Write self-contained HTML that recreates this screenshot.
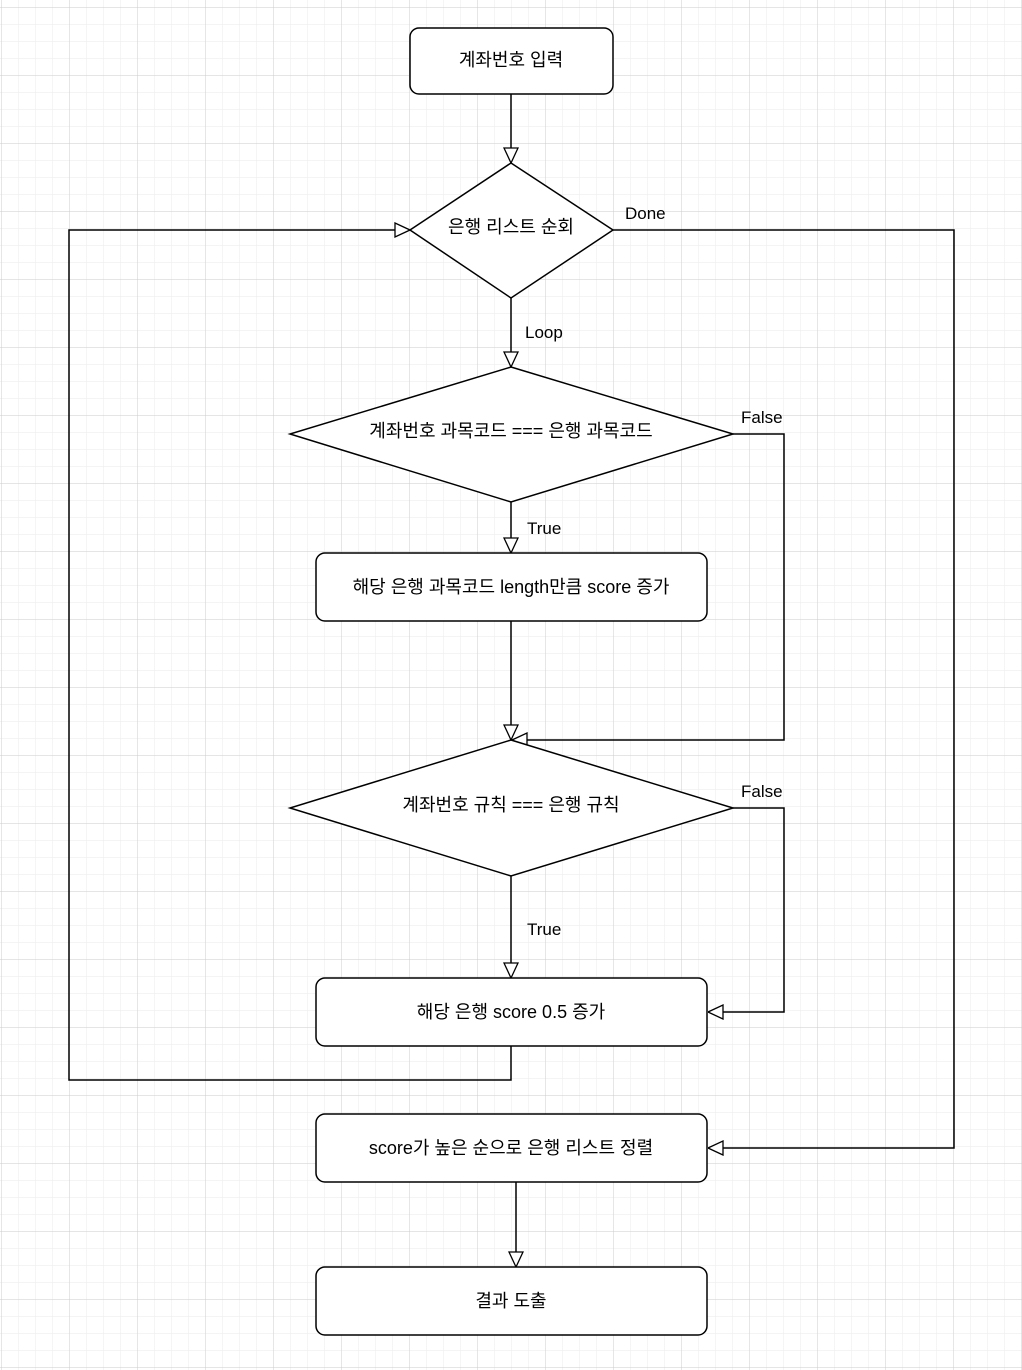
<!DOCTYPE html>
<html><head><meta charset="utf-8"><style>
html,body{margin:0;padding:0;background:#fff}
svg{display:block}
text{font-family:"Liberation Sans","Noto Sans CJK KR",sans-serif;font-size:18px;fill:#000}
</style></head><body>
<svg width="1022" height="1370" xmlns="http://www.w3.org/2000/svg">
<defs>
<pattern id="minor" width="17" height="17" patternUnits="userSpaceOnUse" x="1" y="7">
<path d="M0 0H17M0 0V17" stroke="#eeeeee" stroke-width="1.2" fill="none"/>
</pattern>
<pattern id="major" width="68" height="68" patternUnits="userSpaceOnUse" x="1" y="7">
<path d="M0 0H68M0 0V68" stroke="#cfcfcf" stroke-width="1" fill="none"/>
</pattern>
<marker id="ah" viewBox="0 0 16 16" refX="16" refY="8" markerWidth="16" markerHeight="16" markerUnits="userSpaceOnUse" orient="auto">
<path d="M1 1L16 8L1 15Z" fill="#fff" stroke="#000" stroke-width="1.3"/>
</marker>
</defs>
<rect width="1022" height="1370" fill="url(#minor)"/>
<rect width="1022" height="1370" fill="url(#major)"/>
<g fill="none" stroke="#000" stroke-width="1.5">
<path d="M511 94V163" marker-end="url(#ah)"/>
<path d="M511 298V367" marker-end="url(#ah)"/>
<path d="M511 502V553" marker-end="url(#ah)"/>
<path d="M511 621V740" marker-end="url(#ah)"/>
<path d="M733 434H784V740H512" marker-end="url(#ah)"/>
<path d="M511 876V978" marker-end="url(#ah)"/>
<path d="M733 808H784V1012H708" marker-end="url(#ah)"/>
<path d="M511 1046V1080H69V230H410" marker-end="url(#ah)"/>
<path d="M613 230H954V1148H708" marker-end="url(#ah)"/>
<path d="M516 1182V1267" marker-end="url(#ah)"/>
</g>
<g fill="#fff" stroke="#000" stroke-width="1.5">
<rect x="410" y="28" width="203" height="66" rx="9"/>
<path d="M511 163L613 230L511 298L410 230Z"/>
<path d="M511 367L733 434L511 502L290 434Z"/>
<rect x="316" y="553" width="391" height="68" rx="9"/>
<path d="M511 740L733 808L511 876L290 808Z"/>
<rect x="316" y="978" width="391" height="68" rx="9"/>
<rect x="316" y="1114" width="391" height="68" rx="9"/>
<rect x="316" y="1267" width="391" height="68" rx="9"/>
</g>
<g text-anchor="middle">
<text x="511" y="66">계좌번호 입력</text>
<text x="511" y="233">은행 리스트 순회</text>
<text x="511" y="437">계좌번호 과목코드 === 은행 과목코드</text>
<text x="511" y="593">해당 은행 과목코드 length만큼 score 증가</text>
<text x="511" y="811">계좌번호 규칙 === 은행 규칙</text>
<text x="511" y="1018">해당 은행 score 0.5 증가</text>
<text x="511" y="1154">score가 높은 순으로 은행 리스트 정렬</text>
<text x="511" y="1307">결과 도출</text>
</g>
<g font-size="17">
<text x="625" y="219" style="font-size:17px">Done</text>
<text x="525" y="338" style="font-size:17px">Loop</text>
<text x="741" y="423" style="font-size:17px">False</text>
<text x="527" y="534" style="font-size:17px">True</text>
<text x="741" y="797" style="font-size:17px">False</text>
<text x="527" y="935" style="font-size:17px">True</text>
</g>
</svg>
</body></html>
